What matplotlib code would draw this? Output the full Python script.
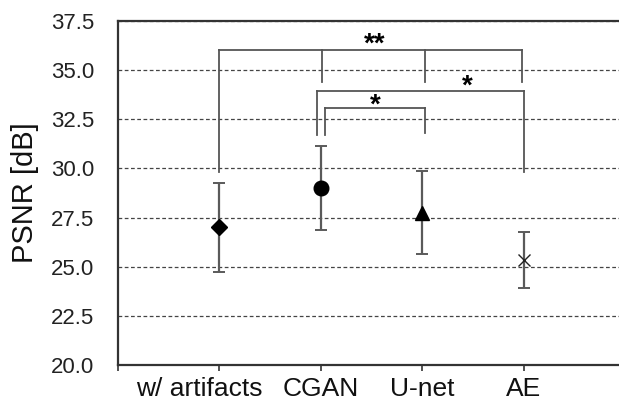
import matplotlib
matplotlib.use("Agg")
import matplotlib.pyplot as plt
from matplotlib.transforms import ScaledTranslation

plt.rcParams['font.family'] = ['Liberation Sans', 'DejaVu Sans']

categories = ["w/ artifacts", "CGAN", "U-net", "AE"]
psnr_mean = [27.0, 29.0, 27.75, 25.35]
psnr_std = [2.28, 2.14, 2.12, 1.43]
markers = ["D", "o", "^", "x"]
y_ticks = [20.0, 22.5, 25.0, 27.5, 30.0, 32.5, 35.0, 37.5]

# significance brackets: (horizontal y, [(leg x, leg bottom y), ...], label, label x, label y)
brackets = [
    (36.05, [(1.0, 29.8), (2.01, 34.4), (3.03, 34.4), (3.98, 34.4)], "**", 2.53, 36.3),
    (33.96, [(1.96, 31.7), (4.0, 29.8)], "*", 3.44, 34.15),
    (33.05, [(2.04, 31.7), (3.03, 31.8)], "*", 2.54, 33.2),
]

fig = plt.figure(figsize=(6.19, 4.05), dpi=100)
ax = fig.add_axes([118/619, 1 - 365/405, 507/619, 344/405])

ax.set_xlim(0, 5)
ax.set_ylim(20, 37.5)
ax.set_yticks(y_ticks)
ax.set_yticklabels([f"{v:.1f}" for v in y_ticks])
ax.yaxis.grid(True, linestyle=(0, (3, 2)), color="#444444", linewidth=0.9)
ax.set_axisbelow(True)

xs = list(range(1, len(categories) + 1))
for x, m, s, mk in zip(xs, psnr_mean, psnr_std, markers):
    ax.errorbar([x], [m], yerr=[s], fmt='none', ecolor="#5a5a5a",
                elinewidth=1.6, capsize=4.5, capthick=1.4, zorder=3)
    if mk == "x":
        ax.plot([x], [m], marker="x", color="#222222", markersize=9,
                markeredgewidth=1.0, linestyle="none", zorder=4)
    else:
        size = {"D": 8.5, "o": 10.5, "^": 10}[mk]
        ax.plot([x], [m], marker=mk, color="black", markersize=size,
                linestyle="none", zorder=4)

for ybar, legs, label, lx, ly in brackets:
    xmin = min(l[0] for l in legs)
    xmax = max(l[0] for l in legs)
    ax.plot([xmin, xmax], [ybar, ybar], color="#555555", linewidth=1.3, zorder=2)
    for lxp, lyb in legs:
        ax.plot([lxp, lxp], [ybar, lyb], color="#555555", linewidth=1.3, zorder=2)
    ax.text(lx, ly, label, ha="center", va="center", fontsize=20,
            fontweight="bold", color="black")

ax.set_xticks([0] + xs + [5])
ax.set_xticklabels([""] + categories + [""], fontsize=19)
ax.tick_params(axis="x", direction="out", length=4, width=1.2, color="#333333", pad=5)
ax.tick_params(axis="y", length=0, pad=17, labelsize=16, labelcolor="#222222")
ax.tick_params(axis="x", labelcolor="#111111")

# the first category label sits shifted left in the original
first_label = ax.get_xticklabels()[1]
first_label.set_transform(first_label.get_transform() +
                          ScaledTranslation(-20/100, 0, fig.dpi_scale_trans))

for side in ["left", "bottom", "top"]:
    ax.spines[side].set_color("#333333")
    ax.spines[side].set_linewidth(1.6)
ax.spines["right"].set_visible(False)

ax.set_ylabel("PSNR [dB]", fontsize=21, color="#111111", labelpad=9)

fig.savefig("out.png", dpi=100)
